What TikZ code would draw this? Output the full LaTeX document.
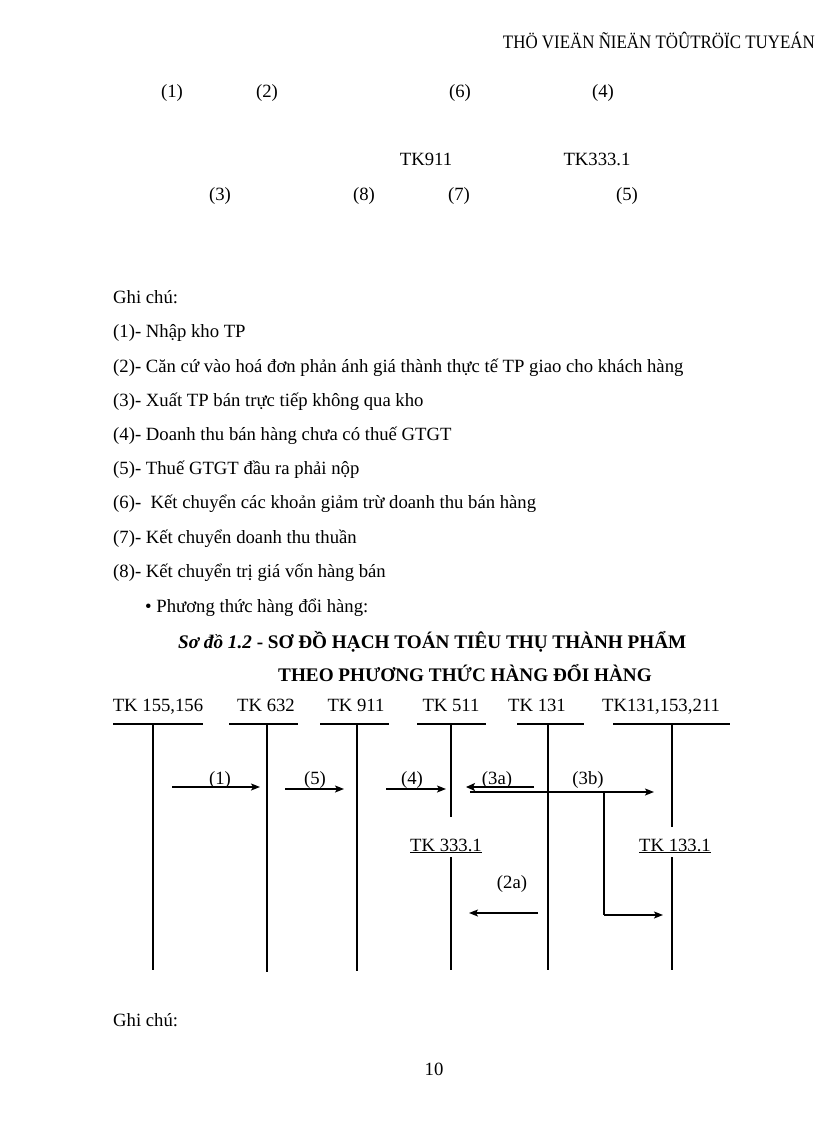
\documentclass[tikz,border=0pt]{standalone}
\usepackage{fontspec}
\setmainfont{Liberation Serif}
\usetikzlibrary{arrows.meta}
\tikzset{
  txt/.style={font=\fontsize{18.7}{21}\selectfont, inner sep=0pt},
  ltxt/.style={txt, anchor=base west},
  ctxt/.style={txt, anchor=base},
  ttl/.style={ltxt, font=\fontsize{19.2}{22}\selectfont\bfseries},
  acct/.style={line width=1.4pt},
  uline/.style={line width=1.3pt},
  arr/.style={line width=1.3pt, -{Stealth[length=9pt,width=7pt,inset=2pt]}},
  arrthick/.style={line width=2pt, -{Stealth[length=9pt,width=8pt,inset=2pt]}},
}
\begin{document}
\begin{tikzpicture}[x=1pt,y=-1pt]
\useasboundingbox (0,0) rectangle (816,1123);
% header
\node[txt, font=\fontsize{19}{22}\selectfont, anchor=base east] (hdr) at (815,49) {\scalebox{0.89}[1]{THÖ VIEÄN ÑIEÄN TÖÛTRÖÏC TUYEÁN}};
% top labels
\node[ctxt] (t1) at (172,98) {(1)};
\node[ctxt] (t2) at (267,98) {(2)};
\node[ctxt] (t6) at (460,98) {(6)};
\node[ctxt] (t4) at (603,98) {(4)};
\node[ctxt] (tk911a) at (426,166) {TK911};
\node[ctxt] (tk333a) at (597,166) {TK333.1};
\node[ctxt] (t3) at (220,201) {(3)};
\node[ctxt] (t8) at (364,201) {(8)};
\node[ctxt] (t7) at (459,201) {(7)};
\node[ctxt] (t5) at (627,201) {(5)};
% notes
\node[ltxt] (g1) at (113,303) {Ghi chú:};
\node[ltxt] (n1) at (113,337) {(1)- Nhập kho TP};
\node[ltxt] (n2) at (113,372) {(2)- Căn cứ vào hoá đơn phản ánh giá thành thực tế TP giao cho khách hàng};
\node[ltxt] (n3) at (113,406) {(3)- Xuất TP bán trực tiếp không qua kho};
\node[ltxt] (n4) at (113,440) {(4)- Doanh thu bán hàng chưa có thuế GTGT};
\node[ltxt] (n5) at (113,474) {(5)- Thuế GTGT đầu ra phải nộp};
\node[ltxt] (n6) at (113,508) {(6)-\ \ Kết chuyển các khoản giảm trừ doanh thu bán hàng};
\node[ltxt] (n7) at (113,543) {(7)- Kết chuyển doanh thu thuần};
\node[ltxt] (n8) at (113,577) {(8)- Kết chuyển trị giá vốn hàng bán};
\node[ltxt] (bul) at (145,612) {•\ Phương thức hàng đổi hàng:};
\node[ttl] (ti1) at (178,648) {\textit{Sơ đồ 1.2} - SƠ ĐỒ HẠCH TOÁN TIÊU THỤ THÀNH PHẨM};
\node[ttl] (ti2) at (278,681) {THEO PHƯƠNG THỨC HÀNG ĐỔI HÀNG};
% diagram headers
\node[ctxt] (h1) at (158,711) {TK 155,156};
\node[ctxt] (h2) at (266,711) {TK 632};
\node[ctxt] (h3) at (356,711) {TK 911};
\node[ctxt] (h4) at (451,711) {TK 511};
\node[ctxt] (h5) at (537,711) {TK 131};
\node[ctxt] (h6) at (661,711) {TK131,153,211};
\draw[uline] (113,724) -- (203,724);
\draw[uline] (229,724) -- (298,724);
\draw[uline] (320,724) -- (389,724);
\draw[uline] (417,724) -- (486,724);
\draw[uline] (517,724) -- (584,724);
\draw[uline] (613,724) -- (730,724);
% account lines
\coordinate (a1t) at (153,724); \coordinate (a1b) at (153,970);
\coordinate (a2t) at (267,724); \coordinate (a2b) at (267,972);
\coordinate (a3t) at (357,724); \coordinate (a3b) at (357,971);
\coordinate (a4t) at (451,724); \coordinate (a4b) at (451,817);
\coordinate (a5t) at (548,724); \coordinate (a5b) at (548,970);
\coordinate (a6t) at (672,724); \coordinate (a6b) at (672,827);
\draw[acct] (a1t) -- (a1b);
\draw[acct] (a2t) -- (a2b);
\draw[acct] (a3t) -- (a3b);
\draw[acct] (a4t) -- (a4b);
\draw[acct] (a5t) -- (a5b);
\draw[acct] (a6t) -- (a6b);
\node[ctxt] (s1) at (446,851) {\underline{TK 333.1}};
\node[ctxt] (s2) at (675,851) {\underline{TK 133.1}};
\coordinate (b1t) at (451,857); \coordinate (b1b) at (451,970);
\coordinate (b2t) at (672,857); \coordinate (b2b) at (672,970);
\draw[acct] (b1t) -- (b1b);
\draw[acct] (b2t) -- (b2b);
% arrows
\coordinate (p1s) at (172,787); \coordinate (p1e) at (260,787);
\coordinate (p5s) at (285,789); \coordinate (p5e) at (344,789);
\coordinate (p4s) at (386,789); \coordinate (p4e) at (446,789);
\coordinate (p3as) at (534,787); \coordinate (p3ae) at (466,787);
\coordinate (p3bs) at (470,792); \coordinate (p3be) at (654,792);
\coordinate (p3bk) at (604,792); \coordinate (p3bc) at (604,915); \coordinate (p3bf) at (663,915);
\coordinate (p2s) at (538,913); \coordinate (p2e) at (469,913);
\draw[arr] (p1s) -- (p1e);
\draw[arr] (p5s) -- (p5e);
\draw[arr] (p4s) -- (p4e);
\draw[arrthick] (p3as) -- (p3ae);
\draw[arr] (p3bs) -- (p3be);
\draw[line width=1.3pt] (p3bk) -- (p3bc);
\draw[arr] (p3bc) -- (p3bf);
\draw[arr] (p2s) -- (p2e);
\node[ctxt] (l1) at (220,784) {(1)};
\node[ctxt] (l5) at (315,784) {(5)};
\node[ctxt] (l4) at (412,784) {(4)};
\node[ctxt] (l3a) at (497,784) {(3a)};
\node[ctxt] (l3b) at (588,784) {(3b)};
\node[ctxt] (l2a) at (512,888) {(2a)};
% footer
\node[ltxt] (g2) at (113,1026) {Ghi chú:};
\node[ctxt] (pg) at (434,1075) {10};
\end{tikzpicture}
\end{document}
